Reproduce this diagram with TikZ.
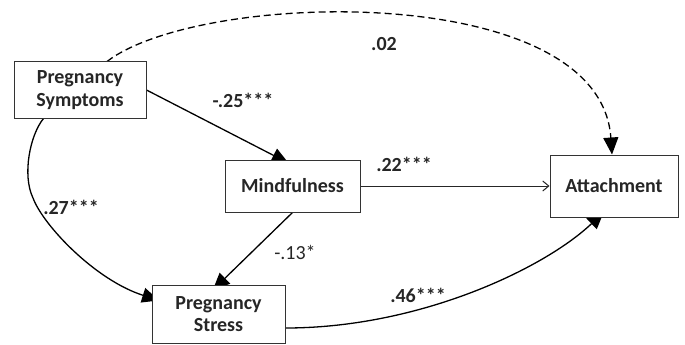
\documentclass[tikz,border=0pt]{standalone}
\usepackage{fontspec}
\setmainfont{Carlito}
\usetikzlibrary{arrows.meta,calc}
\pgfdeclarelayer{bg}
\pgfsetlayers{bg,main}
\begin{document}
\begin{tikzpicture}[x=1pt,y=-1pt,
  box/.style={draw=black!80, line width=1pt, fill=white, align=center,
    font=\fontsize{20}{22.5}\selectfont\bfseries, text=black!85, inner sep=0pt},
  lab/.style={font=\fontsize{20}{22}\selectfont\bfseries, text=black!85, inner sep=0pt},
  labr/.style={font=\fontsize{20}{22}\selectfont, text=black!85, inner sep=0pt},
  con/.style={line width=1.3pt, draw=black, -{Triangle[length=17pt,width=15pt]}},
  thin/.style={line width=1pt, draw=black!85, -{Straight Barb[length=6pt,width=10pt,line width=1pt]}},
]
\useasboundingbox (0,0) rectangle (685,345);

\node[box, minimum width=132pt, minimum height=56pt] (sym) at (80,90) {Pregnancy\\Symptoms};
\node[box, minimum width=135pt, minimum height=52pt] (mind) at (292.5,186) {Mindfulness};
\node[box, minimum width=133pt, minimum height=58pt] (str) at (218.5,314) {Pregnancy\\Stress};
\node[box, minimum width=128pt, minimum height=62pt] (att) at (614,186) {Attachment};

\coordinate (symL) at ($(sym.south west)+(30,0)$);
\coordinate (bend) at (33,198);

\begin{pgfonlayer}{bg}
  \draw[con, shorten >=-8pt] (sym.east) -- ($(mind.north)+(-11,0)$);
  \draw[con, shorten >=-8pt] (mind.south) -- (str.north);
  \draw[con, shorten >=-8pt] (symL) .. controls (30,135) and (22,175) .. (bend)
        .. controls (43,225) and (95,280) .. ($(str.west)+(0,-16)$);
  \draw[con, shorten >=-8pt] ($(str.east)+(0,14)$) .. controls (420,328) and (545,268) .. ($(att.south)+(-16,0)$);
  \draw[con, dash pattern=on 7pt off 4pt] ($(sym.north)+(27,0)$) .. controls (200,-10) and (600,-20) .. ($(att.north)+(-2,0)$);
  \draw[thin] (mind.east) -- (att.west);
\end{pgfonlayer}

\node[lab] (l25) at (243,100) {-.25***};
\node[lab] (l02) at (384,44) {.02};
\node[lab] (l22) at (404,164) {.22***};
\node[lab] (l27) at (71,207) {.27***};
\node[labr] (l13) at (295,252) {-.13*};
\node[lab] (l46) at (418,295) {.46***};
\end{tikzpicture}
\end{document}
